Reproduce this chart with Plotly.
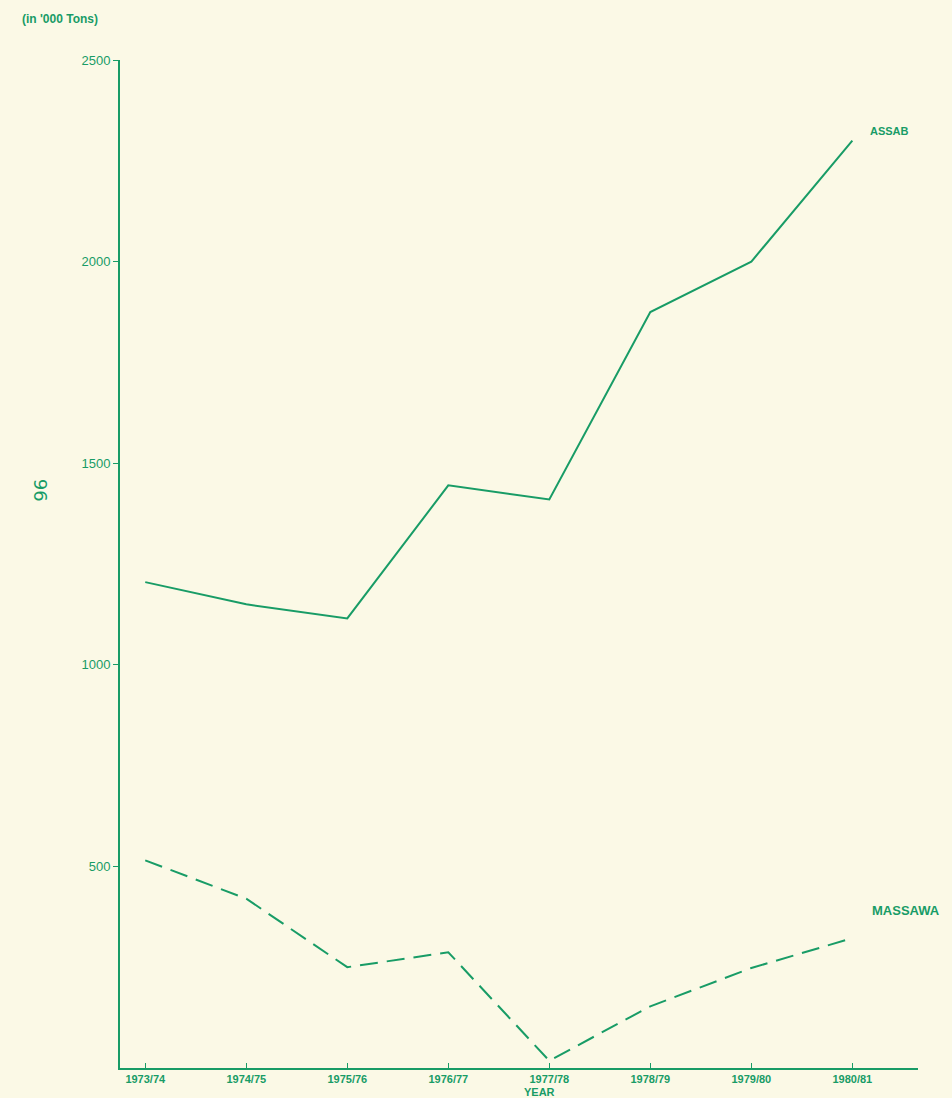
import plotly.graph_objects as go

years = ["1973/74", "1974/75", "1975/76", "1976/77", "1977/78", "1978/79", "1979/80", "1980/81"]
assab = [1205, 1150, 1115, 1445, 1410, 1875, 2000, 2300]
massawa = [515, 420, 250, 287, 18, 153, 248, 322]
y_ticks = [500, 1000, 1500, 2000, 2500]

GREEN = "#189c66"
BG = "#fbf9e6"
idx = list(range(len(years)))

fig = go.Figure()
fig.add_trace(go.Scatter(x=idx, y=assab, mode="lines", name="ASSAB",
                         line=dict(color=GREEN, width=2)))
fig.add_trace(go.Scatter(x=idx, y=massawa, mode="lines", name="MASSAWA",
                         line=dict(color=GREEN, width=2, dash="18px,9px")))

fig.add_annotation(x=idx[-1], y=assab[-1], text="<b>ASSAB</b>", showarrow=False,
                   xanchor="left", yanchor="middle", xshift=16, yshift=10,
                   font=dict(family="Liberation Sans", size=11, color=GREEN))
fig.add_annotation(x=idx[-1], y=massawa[-1], text="<b>MASSAWA</b>", showarrow=False,
                   xanchor="left", yanchor="middle", xshift=18, yshift=28,
                   font=dict(family="Liberation Sans", size=13, color=GREEN))
fig.add_annotation(x=-0.125, y=1.05, xref="paper", yref="paper",
                   text="<b>(in '000 Tons)</b>", showarrow=False, xanchor="left",
                   font=dict(family="Liberation Sans", size=12, color=GREEN))
fig.add_annotation(x=4, y=0, yref="y", text="<b>YEAR</b>", showarrow=False,
                   yanchor="top", yshift=-16, xshift=-10,
                   font=dict(family="Liberation Sans", size=11, color=GREEN))
fig.add_annotation(x=-0.115, y=0.573, xref="paper", yref="paper", text="96",
                   showarrow=False, textangle=90,
                   font=dict(family="DejaVu Sans", size=18, color=GREEN))

fig.update_layout(
    width=952, height=1098,
    paper_bgcolor=BG, plot_bgcolor=BG,
    margin=dict(l=120, r=34, t=60, b=30),
    showlegend=False,
    xaxis=dict(range=[-0.25, 7.65], tickvals=idx, ticktext=["<b>%s</b>" % y for y in years],
               showgrid=False, zeroline=False, showline=True, linecolor=GREEN, linewidth=2,
               ticks="inside", ticklen=5, tickcolor=GREEN, tickwidth=1,
               tickfont=dict(family="Liberation Sans", size=11, color=GREEN)),
    yaxis=dict(range=[0, 2500], tickvals=y_ticks, ticktext=[str(v) for v in y_ticks],
               showgrid=False, zeroline=False, showline=True, linecolor=GREEN, linewidth=2,
               ticks="outside", ticklen=5, tickcolor=GREEN, tickwidth=1,
               tickfont=dict(family="Liberation Sans", size=13, color=GREEN)),
)

fig.write_html("out.html", config={"displayModeBar": False},
               post_script="document.body.style.margin='0';document.body.style.background='%s';" % BG)
